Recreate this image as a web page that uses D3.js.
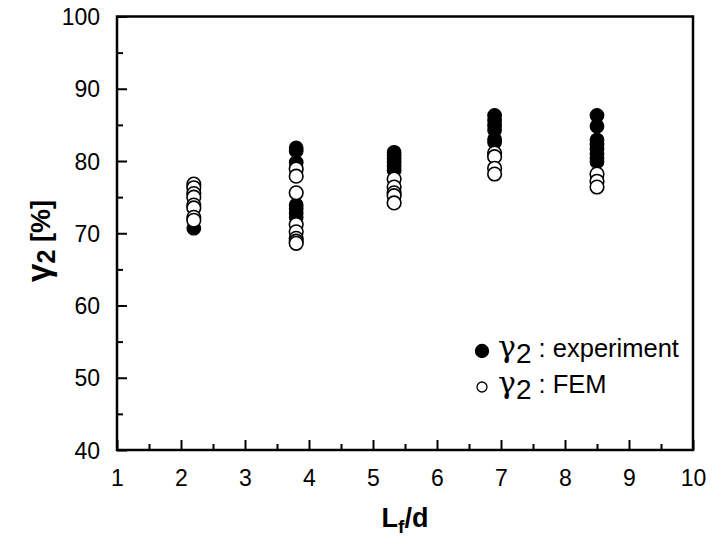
<!DOCTYPE html>
<html>
<head>
<meta charset="utf-8">
<script src="https://cdn.jsdelivr.net/npm/d3@7"></script>
<style>
  html, body { margin: 0; padding: 0; background: #fff; }
  svg { display: block; font-family: Arial, "Liberation Sans", Helvetica, sans-serif; }
</style>
</head>
<body>
<svg id="chart" width="712" height="542"></svg>
<script>
// Fibre length ratio of each test group
const lfd = [2.2, 3.8, 5.33, 6.9, 8.5];

// gamma2 [%] measured in the experiments, one list per group
const expGroup1 = [70.7];
const expGroup2 = [81.8, 81.4, 79.8, 73.9, 73.4, 72.8, 72.2];
const expGroup3 = [81.2, 80.8, 80.3, 79.8, 79.3, 78.7];
const expGroup4 = [86.3, 85.6, 84.9, 84.3, 83.0, 82.6];
const expGroup5 = [86.3, 84.8, 82.9, 82.3, 81.7, 81.0, 80.4, 79.9];

// gamma2 [%] from the FEM analysis, one list per group
const femGroup1 = [76.8, 76.3, 75.5, 75.0, 73.9, 73.5, 72.2, 71.8];
const femGroup2 = [78.9, 77.9, 75.6, 71.2, 70.2, 69.3, 68.9, 68.6];
const femGroup3 = [77.5, 76.4, 75.6, 75.2, 74.2];
const femGroup4 = [81.1, 80.6, 79.0, 78.2];
const femGroup5 = [78.2, 77.2, 76.4];

const xTicks = [1, 2, 3, 4, 5, 6, 7, 8, 9, 10];
const yTicks = [40, 50, 60, 70, 80, 90, 100];

const expGroups = [expGroup1, expGroup2, expGroup3, expGroup4, expGroup5];
const femGroups = [femGroup1, femGroup2, femGroup3, femGroup4, femGroup5];
const toPoints = groups => groups.flatMap((vals, i) => vals.map(v => ({ x: lfd[i], y: v })));
const expPoints = toPoints(expGroups);
const femPoints = toPoints(femGroups);

const margin = { top: 16.5, right: 19, bottom: 92, left: 117 };
const W = 712, H = 542;
const iw = W - margin.left - margin.right;
const ih = H - margin.top - margin.bottom;

const svg = d3.select("#chart");
const g = svg.append("g").attr("transform", `translate(${margin.left},${margin.top})`);

const x = d3.scaleLinear().domain([1, 10]).range([0, iw]);
const y = d3.scaleLinear().domain([40, 100]).range([ih, 0]);

// markers: experiment (filled) below, FEM (open) on top
const R = 6.8;
g.append("g").selectAll("circle").data(expPoints).join("circle")
  .attr("cx", d => x(d.x)).attr("cy", d => y(d.y)).attr("r", R)
  .attr("fill", "#000").attr("stroke", "#000").attr("stroke-width", 1.2);
g.append("g").selectAll("circle").data(femPoints).join("circle")
  .attr("cx", d => x(d.x)).attr("cy", d => y(d.y)).attr("r", R)
  .attr("fill", "#fff").attr("stroke", "#000").attr("stroke-width", 1.6);

// inward ticks on bottom and left axes
const xMinor = d3.range(1.5, 10, 1);
const yMinor = d3.range(45, 100, 10);
const bottomAxis = d3.axisBottom(x).tickValues(xTicks).tickSize(-10).tickFormat(d3.format("d")).tickPadding(20);
const leftAxis = d3.axisLeft(y).tickValues(yTicks).tickSize(-10).tickFormat(d3.format("d")).tickPadding(17);

const gx = g.append("g").attr("transform", `translate(0,${ih})`).call(bottomAxis);
const gy = g.append("g").call(leftAxis);
g.append("g").attr("transform", `translate(0,${ih})`)
  .call(d3.axisBottom(x).tickValues(xMinor).tickSize(-6).tickFormat(""));
g.append("g")
  .call(d3.axisLeft(y).tickValues(yMinor).tickSize(-6).tickFormat(""));

g.selectAll(".domain").remove();
g.selectAll(".tick line").attr("stroke", "#000").attr("stroke-width", 2);
gx.selectAll(".tick text").attr("font-size", 23).attr("fill", "#000");
gy.selectAll(".tick text").attr("font-size", 23).attr("fill", "#000").attr("dy", "0.35em");

// frame
g.append("rect").attr("x", 0).attr("y", 0).attr("width", iw).attr("height", ih)
  .attr("fill", "none").attr("stroke", "#000").attr("stroke-width", 2.5);

// axis titles
const xt = svg.append("text")
  .attr("x", margin.left + iw / 2).attr("y", 527)
  .attr("text-anchor", "middle").attr("font-size", 27).attr("font-weight", "bold");
xt.append("tspan").text("L");
xt.append("tspan").attr("font-size", 19).attr("dy", 6).text("f");
xt.append("tspan").attr("dy", -6).text("/d");

const yt = svg.append("text")
  .attr("transform", `translate(50,241) rotate(-90)`)
  .attr("text-anchor", "middle").attr("font-size", 27).attr("font-weight", "bold");
yt.append("tspan").attr("font-size", 33).text("γ");
yt.append("tspan").attr("font-size", 25).attr("dy", 5).text("2");
yt.append("tspan").attr("dy", -5).text(" [%]");

// legend
const legend = svg.append("g");
const rows = [
  { fill: "#000", r: 6.5, label: " : experiment", cy: 351 },
  { fill: "#fff", r: 5, label: " : FEM", cy: 387 }
];
rows.forEach(row => {
  legend.append("circle").attr("cx", 482).attr("cy", row.cy).attr("r", row.r)
    .attr("fill", row.fill).attr("stroke", "#000").attr("stroke-width", 1.3);
  const t = legend.append("text").attr("x", 498).attr("y", row.cy + 6).attr("font-size", 25.5);
  t.append("tspan").attr("font-size", 30).attr("font-family", "DejaVu Serif, serif").text("γ");
  t.append("tspan").attr("font-size", 28).attr("dy", 6).text("2");
  t.append("tspan").attr("dy", -6).text(row.label);
});
</script>
</body>
</html>
